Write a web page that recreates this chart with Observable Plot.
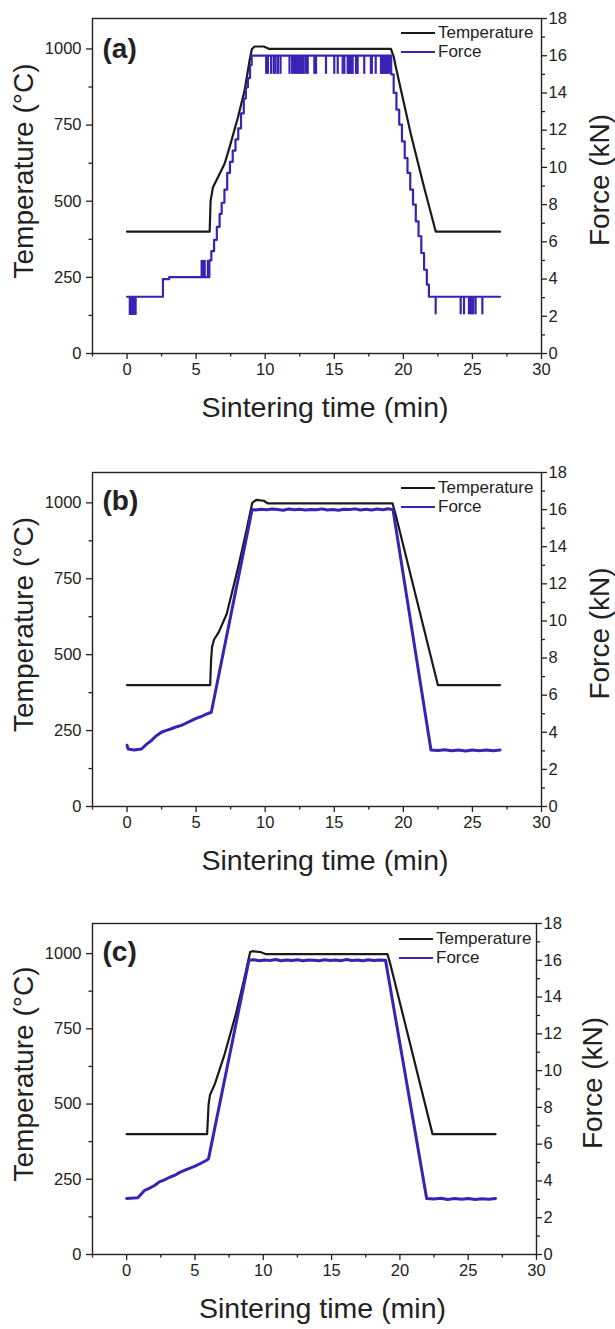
<!DOCTYPE html>
<html><head><meta charset="utf-8">
<script src="https://cdn.jsdelivr.net/npm/d3@7"></script>
<script src="https://cdn.jsdelivr.net/npm/@observablehq/plot@0.6"></script>
<style>
body{margin:0;background:#fff;font-family:"Liberation Sans",Arial,sans-serif;}
.panel{position:relative;width:615px;}
.legend{position:absolute;font-size:17px;color:#222;}
.legend .row{display:flex;align-items:center;height:18.5px;white-space:nowrap}
.legend .sw{display:inline-block;width:34px;height:2px;margin-right:3px}
</style></head><body><div id="chart"></div>
<script>
// ---- axis ticks ----
const xMajor = [0, 5, 10, 15, 20, 25, 30];
const xMinor = [-2.5, 2.5, 7.5, 12.5, 17.5, 22.5, 27.5];
const tempMajor = [0, 250, 500, 750, 1000];
const tempMinor = [125, 375, 625, 875];
const forceMajor = [0, 2, 4, 6, 8, 10, 12, 14, 16, 18];
const forceMinor = [1, 3, 5, 7, 9, 11, 13, 15, 17];

// ---- panel labels ----
const panelLabels = ["(a)", "(b)", "(c)"];
const seriesNames = ["Temperature", "Force"];

// ---- panel (a) ----
const tempA_t = [0, 5.98, 6.05, 6.22, 6.58, 7.06, 7.42, 8.03, 8.51, 8.87, 9.04, 9.23, 9.9, 10.3, 19.1, 19.3, 19.46, 20.54, 21.5, 22.35, 27.0];
const tempA_v = [400, 400, 502, 546, 579, 623, 677, 776, 864, 962, 1000, 1008, 1008, 1000, 1000, 975, 940, 721, 546, 400, 400];
const forceA_t = [0, 2.6, 3.05, 5.96, 6.1, 6.3, 6.5, 6.7, 6.85, 7.05, 7.25, 7.45, 7.65, 7.85, 8.05, 8.25, 8.45, 8.6, 8.75, 8.9, 9.02,
  19.12, 19.3, 19.5, 19.7, 19.9, 20.1, 20.3, 20.5, 20.7, 20.9, 21.1, 21.3, 21.5, 21.7, 21.85, 27.0];
const forceA_v = [3.05, 4.0, 4.1, 5.0, 5.5, 6.1, 6.8, 7.5, 8.1, 8.8, 9.7, 10.3, 10.9, 11.5, 12.1, 12.9, 13.7, 14.3, 14.8, 15.5, 16.0,
  15.0, 14.0, 13.1, 12.3, 11.4, 10.5, 9.7, 8.8, 8.0, 7.1, 6.3, 5.4, 4.5, 3.7, 3.05, 3.05];
// short dips / spikes of the force signal in (a): times (min)
const dipsA_plateau = [10.07, 10.2, 10.43, 10.62, 10.75, 10.92, 11.11, 11.76, 11.95, 12.05, 12.12, 12.22, 12.31, 12.4, 12.48, 12.6, 12.7, 12.79, 12.96, 13.08, 13.56, 13.68,
  14.4, 15.0, 15.25, 15.61, 15.73, 15.97, 16.06, 16.16, 16.25, 16.33, 16.57, 16.69, 17.17, 17.65, 17.72, 18.0, 18.38, 18.45, 18.5, 18.61, 18.72, 18.81, 18.9, 18.98];
const dipsA_start = [0.2, 0.26, 0.32, 0.38, 0.44, 0.5, 0.56, 0.62];
const spikesA_pre = [5.4, 5.47, 5.55, 5.62, 5.85];
const dipsA_end = [22.34, 24.15, 24.39, 24.75, 24.87, 24.97, 25.07, 25.23, 25.72];

// ---- panel (b) ----
const tempB_t = [0, 6.02, 6.08, 6.15, 6.3, 6.65, 7.22, 8.0, 8.6, 9.06, 9.35, 9.9, 10.2, 19.22, 19.45, 22.5, 27.0];
const tempB_v = [400, 400, 480, 525, 550, 575, 635, 780, 900, 1000, 1010, 1007, 998, 998, 960, 400, 400];
const forceB_t = [0, 0.08, 0.5, 1.05, 1.4, 1.77, 2.1, 2.49, 2.85, 3.21, 3.6, 3.94, 4.3, 4.66, 5.0, 5.38, 5.75, 6.1,
  9.05, 9.3, 9.7, 10.1, 10.5, 10.9, 11.3, 11.7, 12.1, 12.5, 12.9, 13.3, 13.7, 14.1, 14.5, 14.9, 15.3, 15.7, 16.1, 16.5, 16.9, 17.3, 17.7, 18.1, 18.5, 18.9, 19.25,
  22.0, 22.5, 23.0, 23.5, 24.0, 24.5, 25.0, 25.5, 26.0, 26.5, 27.0];
const forceB_v = [3.3, 3.1, 3.05, 3.1, 3.35, 3.56, 3.8, 4.0, 4.1, 4.19, 4.3, 4.37, 4.5, 4.63, 4.75, 4.85, 4.98, 5.08,
  16.0, 15.98, 16.02, 15.99, 16.03, 16.0, 15.97, 16.03, 15.99, 16.02, 15.98, 16.01, 15.99, 16.04, 15.98, 16.01, 15.97, 16.02, 16.0, 16.04, 15.98, 16.02, 15.98, 16.03, 15.99, 16.05, 16.0,
  3.05, 3.02, 3.06, 3.0, 3.04, 2.99, 3.04, 3.01, 3.05, 3.0, 3.05];

// ---- panel (c) ----
const tempC_t = [0, 5.89, 6.0, 6.1, 6.46, 7.18, 8.0, 8.6, 9.04, 9.2, 9.8, 10.2, 19.09, 19.3, 22.39, 27.0];
const tempC_v = [400, 400, 500, 530, 567, 667, 800, 915, 1005, 1008, 1005, 998, 998, 965, 400, 400];
const forceC_t = [0, 0.82, 1.3, 1.65, 2.04, 2.4, 2.77, 3.15, 3.5, 3.85, 4.23, 4.6, 4.96, 5.4, 5.82, 5.99,
  8.95, 9.3, 9.7, 10.1, 10.5, 10.9, 11.3, 11.7, 12.1, 12.5, 12.9, 13.3, 13.7, 14.1, 14.5, 14.9, 15.3, 15.7, 16.1, 16.5, 16.9, 17.3, 17.7, 18.1, 18.5, 18.95,
  21.96, 22.5, 23.0, 23.5, 24.0, 24.5, 25.0, 25.5, 26.0, 26.5, 27.0];
const forceC_v = [3.05, 3.08, 3.48, 3.6, 3.75, 3.95, 4.06, 4.2, 4.3, 4.45, 4.57, 4.68, 4.79, 4.95, 5.11, 5.2,
  16.0, 16.03, 15.98, 16.02, 15.99, 16.04, 15.97, 16.02, 15.99, 16.03, 15.98, 16.02, 16.0, 15.97, 16.03, 15.99, 16.02, 15.98, 16.04, 15.99, 16.02, 15.97, 16.03, 15.99, 16.02, 16.0,
  3.05, 3.02, 3.06, 2.99, 3.04, 3.0, 3.05, 2.99, 3.03, 3.01, 3.05];

// ---------------------------------------------------------------
const BLACK = "#1a1a1a", BLUE = "#3c22b4", INK = "#222";
const K = 1100 / 18; // force (kN) expressed in temperature-axis units
const zip = (t, v, f = 1) => t.map((x, i) => ({t: x, v: v[i] * f}));
const rules = (ts, lo, hi) => ts.map(t => ({t, y1: lo * K, y2: hi * K}));

const panels = [
  {label: panelLabels[0], temp: zip(tempA_t, tempA_v), force: zip(forceA_t, forceA_v, K), curve: "step-after", fw: 2.2,
   dips: [...rules(dipsA_plateau, 16, 15.0), ...rules(dipsA_start, 3.05, 2.05), ...rules(spikesA_pre, 4.1, 5.0), ...rules(dipsA_end, 3.05, 2.08)],
   height: 440, mt: 18, mb: 87, mr: 74, rdx: 59, ldy: 31, legTop: 24, legLeft: 401},
  {label: panelLabels[1], temp: zip(tempB_t, tempB_v), force: zip(forceB_t, forceB_v, K), curve: "linear", fw: 3,
   dips: [], height: 440, mt: 32, mb: 74, mr: 74, rdx: 59, ldy: 29, legTop: 39, legLeft: 401},
  {label: panelLabels[2], temp: zip(tempC_t, tempC_v), force: zip(forceC_t, forceC_v, K), curve: "linear", fw: 3,
   dips: [], height: 449, mt: 43, mb: 75, mr: 79, rdx: 57, ldy: 29, legTop: 50, legLeft: 399}
];

const root = document.getElementById("chart");
for (const p of panels) {
  const plot = Plot.plot({
    width: 615, height: p.height,
    marginLeft: 92, marginRight: p.mr, marginTop: p.mt, marginBottom: p.mb,
    style: {fontFamily: '"Liberation Sans", Arial, sans-serif', fontSize: "16.5px", color: INK, background: "#fff", overflow: "visible"},
    x: {domain: [-2.5, 30]},
    y: {domain: [0, 1100]},
    marks: [
      Plot.axisX({ticks: xMajor, tickSize: 6, tickPadding: 4, tickFormat: d => String(d), label: null, strokeWidth: 1.3}),
      Plot.axisX({ticks: xMinor, tickSize: 3.5, tickFormat: () => "", label: null, strokeWidth: 1.3}),
      Plot.axisY({ticks: tempMajor, anchor: "left", tickSize: 6, tickPadding: 5, tickFormat: d => String(d), label: null, strokeWidth: 1.3}),
      Plot.axisY({ticks: tempMinor, anchor: "left", tickSize: 3.5, tickFormat: () => "", label: null, strokeWidth: 1.3}),
      Plot.axisY({ticks: forceMajor.map(f => f * K), anchor: "right", tickSize: 5, tickPadding: 2, tickFormat: d => String(Math.round(d / K)), label: null, strokeWidth: 1.3}),
      Plot.axisY({ticks: forceMinor.map(f => f * K), anchor: "right", tickSize: 3, tickFormat: () => "", label: null, strokeWidth: 1.3}),
      Plot.frame({stroke: INK, strokeWidth: 1.4}),
      Plot.line(p.temp, {x: "t", y: "v", stroke: BLACK, strokeWidth: 2.2}),
      Plot.ruleX(p.dips, {x: "t", y1: "y1", y2: "y2", stroke: BLUE, strokeWidth: 2.2}),
      Plot.line(p.force, {x: "t", y: "v", stroke: BLUE, strokeWidth: p.fw, curve: p.curve}),
      Plot.text([p.label], {text: d => d, frameAnchor: "top-left", dx: 10, dy: p.ldy, textAnchor: "start", lineAnchor: "middle", fontSize: 28, fontWeight: "bold", fill: INK}),
      Plot.text(["Temperature (°C)"], {text: d => d, frameAnchor: "left", textAnchor: "middle", dx: -68, dy: -15, rotate: -90, fontSize: 28, fill: INK}),
      Plot.text(["Force (kN)"], {text: d => d, frameAnchor: "right", textAnchor: "middle", dx: p.rdx, dy: -6, rotate: -90, fontSize: 28, fill: INK}),
      Plot.text(["Sintering time (min)"], {text: d => d, frameAnchor: "bottom", dx: 8, dy: 63, fontSize: 28.5, fill: INK})
    ]
  });
  const wrap = document.createElement("div");
  wrap.className = "panel";
  wrap.style.height = p.height + "px";
  wrap.appendChild(plot);
  const leg = document.createElement("div");
  leg.className = "legend";
  leg.style.left = p.legLeft + "px";
  leg.style.top = p.legTop + "px";
  leg.innerHTML = `<div class="row"><span class="sw" style="background:${BLACK}"></span>${seriesNames[0]}</div>` +
                  `<div class="row"><span class="sw" style="background:${BLUE}"></span>${seriesNames[1]}</div>`;
  wrap.appendChild(leg);
  root.appendChild(wrap);
}
</script></body></html>
